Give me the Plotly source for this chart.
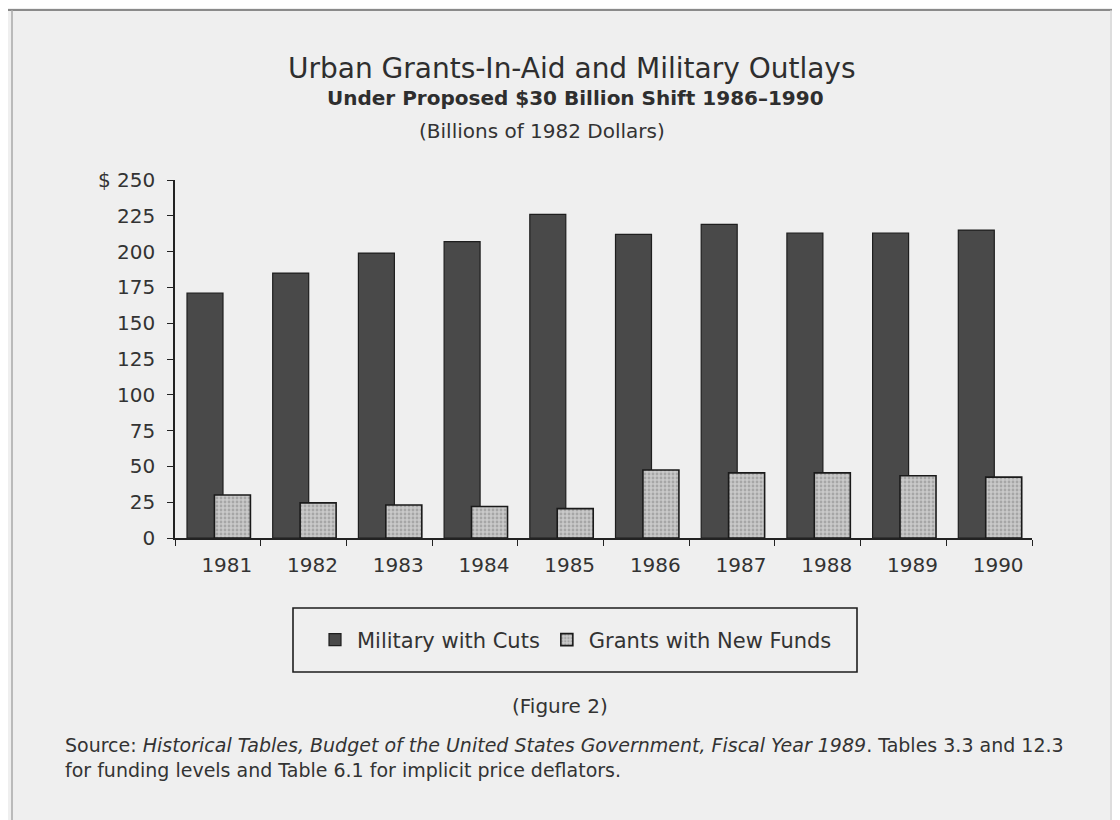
import plotly.graph_objects as go

years = ["1981", "1982", "1983", "1984", "1985", "1986", "1987", "1988", "1989", "1990"]
military = [171, 185, 199, 207, 226, 212, 219, 213, 213, 215]
grants = [30, 24.5, 23, 22, 20.5, 47.5, 45.5, 45.5, 43.5, 42.5]
y_ticks = [0, 25, 50, 75, 100, 125, 150, 175, 200, 225, 250]
y_tick_text = ["0", "25", "50", "75", "100", "125", "150", "175", "200", "225", "$ 250"]

W, H = 1120, 820
OFF = 8  # page body margin in the browser
# target plot-area box in screenshot pixels
X0, X1, Y0, Y1 = 175, 1032, 180, 538
L, T = X0 - OFF, Y0 - OFF
R = W - (X1 - OFF)
B = H - (Y1 - OFF)
PW, PH = X1 - X0, Y1 - Y0


def px(x):
    return (x - X0) / PW


def py(y):
    return (Y1 - y) / PH


FONT = "DejaVu Sans"
TXT = "#333333"
BG = "#efefef"

fig = go.Figure()
fig.add_trace(go.Bar(
    x=years, y=military, name="Military with Cuts",
    width=0.42, offset=-0.36,
    marker=dict(color="#494949", line=dict(color="#1e1e1e", width=1.2)),
))
fig.add_trace(go.Bar(
    x=years, y=grants, name="Grants with New Funds",
    width=0.42, offset=-0.04,
    marker=dict(color="#c6c6c6", line=dict(color="#1a1a1a", width=1.6),
                pattern=dict(shape=".", fgcolor="#848484", bgcolor="#c9c9c9",
                             size=4, solidity=0.4)),
))

fig.update_layout(
    width=W, height=H,
    margin=dict(l=L, r=R, t=T, b=B),
    paper_bgcolor=BG, plot_bgcolor=BG,
    barmode="overlay",
    font=dict(family=FONT, color=TXT, size=20),
    showlegend=True,
    legend=dict(orientation="h", x=px(575), y=py(640), xanchor="center", yanchor="middle",
                bgcolor="rgba(0,0,0,0)", borderwidth=0,
                font=dict(size=21, color=TXT, family=FONT), itemwidth=34,
                traceorder="normal"),
    xaxis=dict(type="category", tickson="boundaries", ticks="outside", ticklen=6,
               tickcolor="#222", showline=True, linecolor="#222", linewidth=1.5,
               showgrid=False, zeroline=False, ticklabelstandoff=8,
               ticklabelshift=9,
               tickfont=dict(size=20, color=TXT), range=[-0.5, 9.5]),
    yaxis=dict(range=[0, 250], tickvals=y_ticks, ticktext=y_tick_text,
               ticks="outside", ticklen=6, tickcolor="#222",
               showline=True, linecolor="#222", linewidth=1.5,
               showgrid=False, zeroline=False, ticklabelstandoff=8,
               tickfont=dict(size=20, color=TXT)),
)

ann = [
    dict(text="Urban Grants-In-Aid and Military Outlays", x=px(572), y=py(68),
         font=dict(size=28, color="#2e2e2e")),
    dict(text="<b>Under Proposed $30 Billion Shift 1986–1990</b>", x=px(575), y=py(98),
         font=dict(size=20, color="#2e2e2e")),
    dict(text="(Billions of 1982 Dollars)", x=px(542), y=py(131),
         font=dict(size=20, color=TXT)),
    dict(text="(Figure 2)", x=px(560), y=py(706), font=dict(size=20, color=TXT)),
]
for a in ann:
    fig.add_annotation(xref="paper", yref="paper", showarrow=False,
                       xanchor="center", yanchor="middle", **a)

fig.add_annotation(
    xref="paper", yref="paper", showarrow=False, xanchor="left", yanchor="top",
    align="left", x=px(63), y=py(732),
    text=("Source: <i>Historical Tables, Budget of the United States Government, Fiscal Year 1989</i>. "
          "Tables 3.3 and 12.3<br>for funding levels and Table 6.1 for implicit price deflators."),
    font=dict(size=19, color=TXT),
)

# legend frame
fig.add_shape(type="rect", xref="paper", yref="paper",
              x0=px(293), x1=px(857), y0=py(608), y1=py(672),
              line=dict(color="#1e1e1e", width=1.6), fillcolor="rgba(0,0,0,0)")
# page frame lines
fig.add_shape(type="line", xref="paper", yref="paper",
              x0=px(8), x1=px(1128), y0=py(10), y1=py(10),
              line=dict(color="#8a8a8a", width=2))
fig.add_shape(type="line", xref="paper", yref="paper",
              x0=px(12), x1=px(12), y0=py(10), y1=py(830),
              line=dict(color="#a8a8a8", width=1.5))
fig.add_shape(type="line", xref="paper", yref="paper",
              x0=px(1111), x1=px(1111), y0=py(10), y1=py(830),
              line=dict(color="#d0d0d0", width=1.2))

fig.write_html("out.html")
